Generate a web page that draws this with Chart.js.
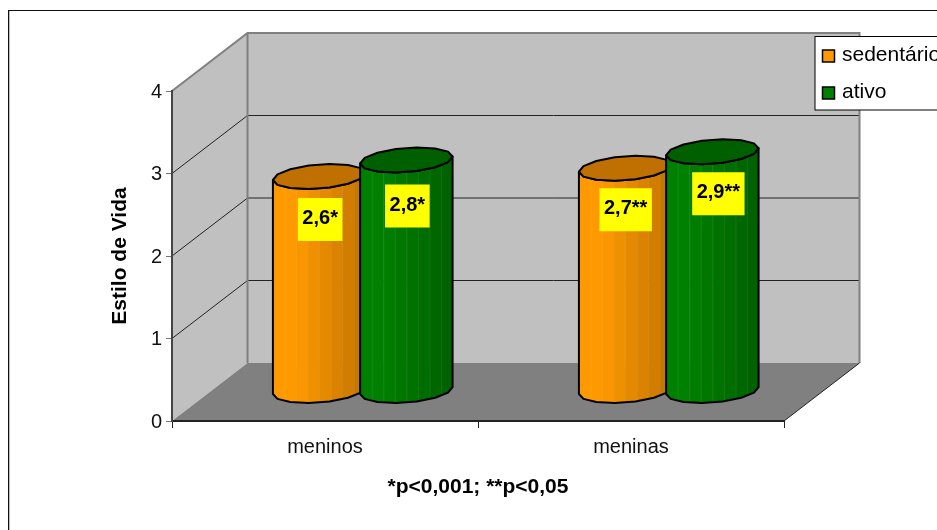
<!DOCTYPE html>
<html>
<head>
<meta charset="utf-8">
<style>
  html, body { margin: 0; padding: 0; background: #fff; overflow: hidden; }
  canvas { display: block; }
</style>
<script src="https://cdn.jsdelivr.net/npm/chart.js@4/dist/chart.umd.js"></script>
</head>
<body>
<canvas id="c" width="937" height="530"></canvas>
<script>
const categories = ["meninos", "meninas"];
const sedentario = [2.6, 2.7];
const ativo = [2.8, 2.9];
const sedentarioMarks = ["*", "**"];
const ativoMarks = ["*", "**"];
const seriesNames = ["sedentário", "ativo"];
const yTicks = [0, 1, 2, 3, 4];

const FONT = '"Liberation Sans", Arial, sans-serif';
const depth = { x: 75.5, y: 58 };     // how far the back wall sits behind the axes

const orange = { light: [255, 153, 0], dark: [198, 119, 0], top: "#c07000", key: "#ff9900" };
const green = { light: [0, 128, 0], dark: [0, 98, 0], top: "#006000", key: "#008000" };

function mix(a, b, t) {
  const c = a.map((v, i) => Math.round(v + (b[i] - v) * t));
  return `rgb(${c[0]},${c[1]},${c[2]})`;
}

// ── Walls and floor, hung off the value scale ──────────────────────────

const wallsPlugin = {
  id: "walls",
  beforeDraw(chart) {
    const { ctx, chartArea: a, scales: { y } } = chart;
    const base = y.getPixelForValue(0), top = y.getPixelForValue(4);

    ctx.save();
    ctx.fillStyle = "#fff";
    ctx.fillRect(0, 0, chart.width, chart.height);

    // outer frame runs off the right and bottom of the canvas
    ctx.fillStyle = "#111";
    ctx.fillRect(8, 10, chart.width, 1);
    ctx.fillRect(8, 10, 1, chart.height);
    ctx.fillStyle = "#bbb";
    ctx.fillRect(9, 11, 1, chart.height);

    ctx.fillStyle = "#c0c0c0";
    ctx.fillRect(a.left + depth.x, top - depth.y, a.right - a.left, base - top);
    ctx.beginPath();
    ctx.moveTo(a.left, base);
    ctx.lineTo(a.left, top);
    ctx.lineTo(a.left + depth.x, top - depth.y);
    ctx.lineTo(a.left + depth.x, base - depth.y);
    ctx.closePath();
    ctx.fill();

    ctx.fillStyle = "#808080";
    ctx.beginPath();
    ctx.moveTo(a.left, base);
    ctx.lineTo(a.right, base);
    ctx.lineTo(a.right + depth.x, base - depth.y);
    ctx.lineTo(a.left + depth.x, base - depth.y);
    ctx.closePath();
    ctx.fill();

    // gridlines bend from the side wall onto the back wall
    ctx.strokeStyle = "#222";
    for (const v of yTicks.slice(1, -1)) {
      const py = y.getPixelForValue(v);
      ctx.beginPath();
      ctx.moveTo(a.left, py);
      ctx.lineTo(a.left + depth.x, py - depth.y);
      ctx.lineTo(a.right + depth.x, py - depth.y);
      ctx.stroke();
    }

    ctx.strokeStyle = "#808080";
    ctx.lineWidth = 2;
    ctx.beginPath();
    ctx.moveTo(a.left, top);
    ctx.lineTo(a.left + depth.x, top - depth.y);
    ctx.lineTo(a.right + depth.x, top - depth.y);
    ctx.lineTo(a.right + depth.x, base - depth.y);
    ctx.moveTo(a.left + depth.x, top - depth.y);
    ctx.lineTo(a.left + depth.x, base - depth.y);
    ctx.stroke();

    ctx.strokeStyle = "#222";
    ctx.lineWidth = 1;
    ctx.beginPath();
    ctx.moveTo(a.right, base);
    ctx.lineTo(a.right + depth.x, base - depth.y);
    ctx.stroke();
    ctx.restore();
  },
};

// ── Cylinders: each one takes its place from the bar element ───────────

function drawCylinder(ctx, bar, style) {
  const cx = bar.x + depth.x / 2;
  const topY = bar.y - 30;
  const botY = bar.base - 30;
  const hw = bar.width * 0.53, hh = 12, skew = 3.5;
  const steps = 14;
  const pt = (cy, t) => [cx + hw * Math.cos(t), cy + hh * Math.sin(t) - skew * Math.cos(t)];

  const bodyPath = () => {
    ctx.beginPath();
    for (let i = 0; i <= steps / 2; i++) {
      const [x, y] = pt(topY, Math.PI - (i / (steps / 2)) * Math.PI);
      i ? ctx.lineTo(x, y) : ctx.moveTo(x, y);
    }
    for (let i = 0; i <= steps / 2; i++) {
      const [x, y] = pt(botY, (i / (steps / 2)) * Math.PI);
      ctx.lineTo(x, y);
    }
    ctx.closePath();
  };

  ctx.save();
  bodyPath();
  ctx.clip();
  const facets = 8, left = cx - hw, fw = (2 * hw) / facets;
  for (let i = 0; i < facets; i++) {
    const t = Math.max(0, (i - 1.5) / (facets - 2.5));
    ctx.fillStyle = mix(style.light, style.dark, t);
    ctx.fillRect(left + i * fw, topY - hh - 6, fw + 0.5, botY - topY + 2 * hh + 12);
    if (i) {
      ctx.fillStyle = "rgba(255,255,255,0.08)";
      ctx.fillRect(left + i * fw, topY - hh - 6, 1, botY - topY + 2 * hh + 12);
    }
  }
  ctx.restore();

  ctx.lineJoin = "round";
  ctx.strokeStyle = "#000";
  ctx.lineWidth = 2;
  bodyPath();
  ctx.stroke();

  ctx.beginPath();
  for (let i = 0; i < steps; i++) {
    const [x, y] = pt(topY, (i / steps) * 2 * Math.PI);
    i ? ctx.lineTo(x, y) : ctx.moveTo(x, y);
  }
  ctx.closePath();
  ctx.fillStyle = style.top;
  ctx.fill();
  ctx.stroke();
}

function drawValueLabel(ctx, bar, text, nudge) {
  ctx.font = `bold 20px ${FONT}`;
  ctx.textAlign = "left";
  ctx.textBaseline = "middle";
  const w = ctx.measureText(text).width + 9;
  const cx = bar.x + depth.x / 2 + nudge[0];
  const cy = bar.y + nudge[1];
  ctx.fillStyle = "#ffff00";
  ctx.fillRect(cx - w / 2, cy - 21.5, w, 43);
  ctx.fillStyle = "#000";
  ctx.fillText(text, cx - w / 2 + 4.5, cy - 1);
}

function drawLegend(ctx) {
  ctx.save();
  ctx.fillStyle = "#fff";
  ctx.strokeStyle = "#000";
  ctx.lineWidth = 1;
  ctx.fillRect(815, 36.5, 200, 73.5);
  ctx.strokeRect(815, 36.5, 200, 73.5);
  const rows = [[56, orange.key], [93, green.key]];
  ctx.font = `21px ${FONT}`;
  ctx.textAlign = "left";
  ctx.textBaseline = "middle";
  rows.forEach(([y, color], i) => {
    ctx.fillStyle = color;
    ctx.fillRect(822.5, y - 6, 12, 12);
    ctx.lineWidth = 1.5;
    ctx.strokeRect(822.5, y - 6, 12, 12);
    ctx.fillStyle = "#000";
    ctx.fillText(seriesNames[i], 842, y - 1);
  });
  ctx.restore();
}

const cylinderPlugin = {
  id: "cylinders",
  afterDatasetsDraw(chart) {
    const { ctx } = chart;
    const styles = [orange, green];
    ctx.save();
    chart.data.datasets.forEach((ds, d) => {
      chart.getDatasetMeta(d).data.forEach((bar) => drawCylinder(ctx, bar, styles[d]));
    });
    // hand-placed label offsets, per series and category
    const nudges = [[[1, 13], [0.5, 11.5]], [[1, 16], [6, 12]]];
    chart.data.datasets.forEach((ds, d) => {
      chart.getDatasetMeta(d).data.forEach((bar, i) => {
        const text = ds.data[i].toFixed(1).replace(".", ",") + ds.marks[i];
        drawValueLabel(ctx, bar, text, nudges[d][i]);
      });
    });
    ctx.restore();
    drawLegend(ctx);
  },
};

new Chart(document.getElementById("c"), {
  type: "bar",
  data: {
    labels: categories,
    datasets: [
      { label: seriesNames[0], data: sedentario, marks: sedentarioMarks, backgroundColor: "transparent" },
      { label: seriesNames[1], data: ativo, marks: ativoMarks, backgroundColor: "transparent" },
    ],
  },
  options: {
    responsive: false,
    animation: false,
    events: [],
    categoryPercentage: 0.57,
    barPercentage: 1,
    layout: { padding: { top: 91, right: 153 } },
    scales: {
      x: {
        afterFit: (s) => { s.height = 109; },
        grid: { drawOnChartArea: false, color: "#222", tickLength: 7 },
        border: { color: "#222", width: 2 },
        ticks: { color: "#111", font: { family: FONT, size: 20 }, padding: 7 },
        title: {
          display: true,
          text: "*p<0,001; **p<0,05",
          color: "#000",
          font: { family: FONT, size: 21, weight: "bold" },
          padding: { top: 0, bottom: 30 },
        },
      },
      y: {
        min: 0,
        max: 4,
        afterFit: (s) => { s.width = 172; },
        grid: { drawOnChartArea: false, color: "#777", tickLength: 6 },
        border: { color: "#444", width: 2 },
        ticks: {
          stepSize: 1,
          color: "#111",
          font: { family: FONT, size: 20 },
          padding: 4,
          labelOffset: 1,
        },
        title: {
          display: true,
          text: "Estilo de Vida",
          color: "#000",
          font: { family: FONT, size: 21, weight: "bold" },
          padding: { top: 108, bottom: 0 },
        },
      },
    },
    plugins: { legend: { display: false }, tooltip: { enabled: false } },
  },
  plugins: [wallsPlugin, cylinderPlugin],
});
</script>
</body>
</html>
